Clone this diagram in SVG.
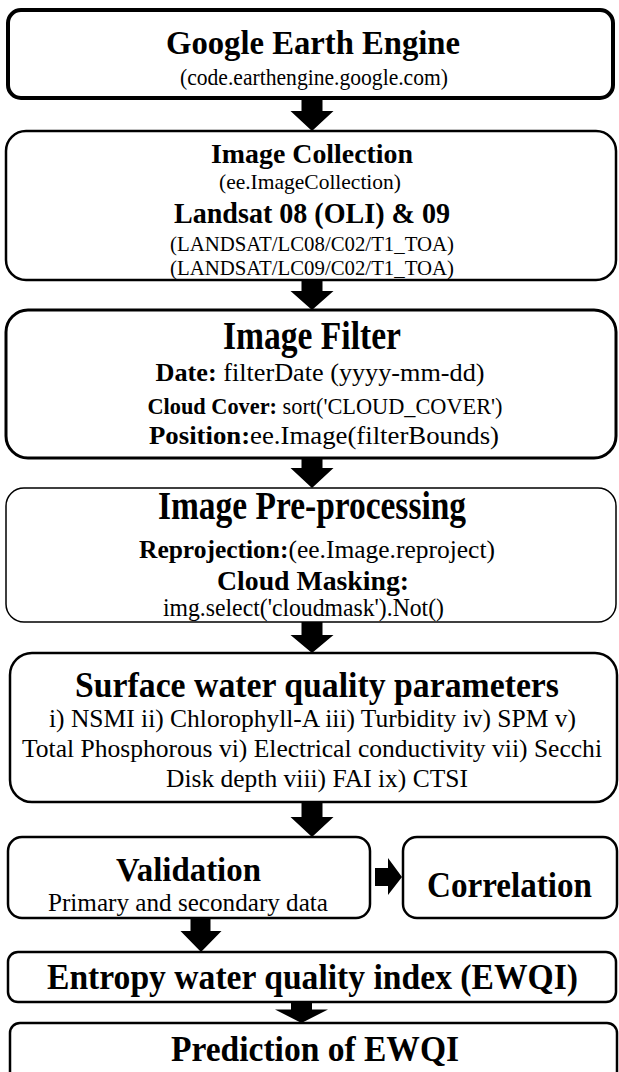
<svg xmlns="http://www.w3.org/2000/svg" width="619" height="1072" viewBox="0 0 619 1072">
<style>
.box{fill:#fff;stroke:#000;stroke-width:2.5}
.t{font-family:"Liberation Serif","Times New Roman",serif;fill:#000;text-anchor:middle}
.b{font-weight:bold}
.arr{fill:#000}
</style>
<rect width="619" height="1072" fill="#fff"/>
<g id="connectors">
<path class="arr" d="M301.5,98H322.5V111H333.5L312,131L290.5,111H301.5Z"/>
<path class="arr" d="M301.5,280H322.5V291H333.5L312,310L290.5,291H301.5Z"/>
<path class="arr" d="M301.5,458H322.5V468H333.5L312,488L290.5,468H301.5Z"/>
<path class="arr" d="M301.5,622H322.5V635H333.5L312,653L290.5,635H301.5Z"/>
<path class="arr" d="M301.5,802H322.5V817H333.5L312,837L290.5,817H301.5Z"/>
<path class="arr" d="M190.5,918H210.5V931H221.5L201,952L180.5,931H190.5Z"/>
<path class="arr" d="M291,1001H312V1009.5H328L301.5,1023L275,1009.5H291Z"/>
<path class="arr" d="M375,868H388V858L402,877L388,895V886H375Z"/>
</g>
<g id="gee">
<rect class="box" x="8" y="10" width="605" height="88" rx="13" style="stroke-width:4"/>
<text class="t b" x="313" y="54" font-size="33" textLength="294" lengthAdjust="spacingAndGlyphs">Google Earth Engine</text>
<text class="t" x="314" y="85" font-size="23" textLength="268" lengthAdjust="spacingAndGlyphs">(code.earthengine.google.com)</text>
</g>
<g id="collection">
<rect class="box" x="6" y="131" width="610" height="149" rx="20"/>
<text class="t b" x="312" y="163" font-size="28" textLength="202" lengthAdjust="spacingAndGlyphs">Image Collection</text>
<text class="t" x="310" y="189" font-size="22" textLength="182" lengthAdjust="spacingAndGlyphs">(ee.ImageCollection)</text>
<text class="t b" x="312" y="223" font-size="30" textLength="276" lengthAdjust="spacingAndGlyphs">Landsat 08 (OLI) &amp; 09</text>
<text class="t" x="312" y="251" font-size="22" textLength="284" lengthAdjust="spacingAndGlyphs">(LANDSAT/LC08/C02/T1_TOA)</text>
<text class="t" x="312" y="275" font-size="22" textLength="284" lengthAdjust="spacingAndGlyphs">(LANDSAT/LC09/C02/T1_TOA)</text>
</g>
<g id="filter">
<rect class="box" x="6" y="310" width="610" height="148" rx="22" style="stroke-width:3"/>
<text class="t b" x="312" y="349" font-size="40" textLength="178" lengthAdjust="spacingAndGlyphs">Image Filter</text>
<text class="t" x="320" y="381" font-size="25" textLength="329" lengthAdjust="spacingAndGlyphs"><tspan class="b">Date:</tspan> filterDate (yyyy-mm-dd)</text>
<text class="t" x="325" y="414" font-size="24" textLength="355" lengthAdjust="spacingAndGlyphs"><tspan class="b">Cloud Cover:</tspan> sort('CLOUD_COVER')</text>
<text class="t" x="324" y="444" font-size="25" textLength="350" lengthAdjust="spacingAndGlyphs"><tspan class="b">Position:</tspan>ee.Image(filterBounds)</text>
</g>
<g id="preprocessing">
<rect class="box" x="6" y="488" width="610" height="134" rx="18" style="stroke-width:1.5"/>
<text class="t b" x="312" y="519" font-size="40" textLength="308" lengthAdjust="spacingAndGlyphs">Image Pre-processing</text>
<text class="t" x="317" y="558" font-size="26" textLength="356" lengthAdjust="spacingAndGlyphs"><tspan class="b">Reprojection:</tspan>(ee.Image.reproject)</text>
<text class="t b" x="313" y="590" font-size="28" textLength="192" lengthAdjust="spacingAndGlyphs">Cloud Masking:</text>
<text class="t" x="303.5" y="616" font-size="25" textLength="281" lengthAdjust="spacingAndGlyphs">img.select('cloudmask').Not()</text>
</g>
<g id="parameters">
<rect class="box" x="10" y="653" width="607" height="149" rx="22"/>
<text class="t b" x="317" y="697" font-size="35" textLength="484" lengthAdjust="spacingAndGlyphs">Surface water quality parameters</text>
<text class="t" x="312.5" y="727" font-size="26" textLength="527" lengthAdjust="spacingAndGlyphs">i) NSMI ii) Chlorophyll-A iii) Turbidity iv) SPM v)</text>
<text class="t" x="312" y="757" font-size="26" textLength="580" lengthAdjust="spacingAndGlyphs">Total Phosphorous vi) Electrical conductivity vii) Secchi</text>
<text class="t" x="317" y="787" font-size="26" textLength="302" lengthAdjust="spacingAndGlyphs">Disk depth viii) FAI ix) CTSI</text>
</g>
<g id="validation">
<rect class="box" x="8" y="837" width="362" height="81" rx="14"/>
<text class="t b" x="188.5" y="881" font-size="34" textLength="145" lengthAdjust="spacingAndGlyphs">Validation</text>
<text class="t" x="188" y="911" font-size="26" textLength="280" lengthAdjust="spacingAndGlyphs">Primary and secondary data</text>
</g>
<g id="correlation">
<rect class="box" x="403" y="837" width="214" height="81" rx="14"/>
<text class="t b" x="509.5" y="897" font-size="35" textLength="165" lengthAdjust="spacingAndGlyphs">Correlation</text>
</g>
<g id="ewqi">
<rect class="box" x="8" y="952" width="608" height="50" rx="10"/>
<text class="t b" x="312.5" y="989" font-size="35" textLength="531" lengthAdjust="spacingAndGlyphs">Entropy water quality index (EWQI)</text>
</g>
<g id="prediction">
<rect class="box" x="10" y="1023" width="607" height="70" rx="10"/>
<text class="t b" x="315" y="1061" font-size="35" textLength="288" lengthAdjust="spacingAndGlyphs">Prediction of EWQI</text>
</g>
</svg>
